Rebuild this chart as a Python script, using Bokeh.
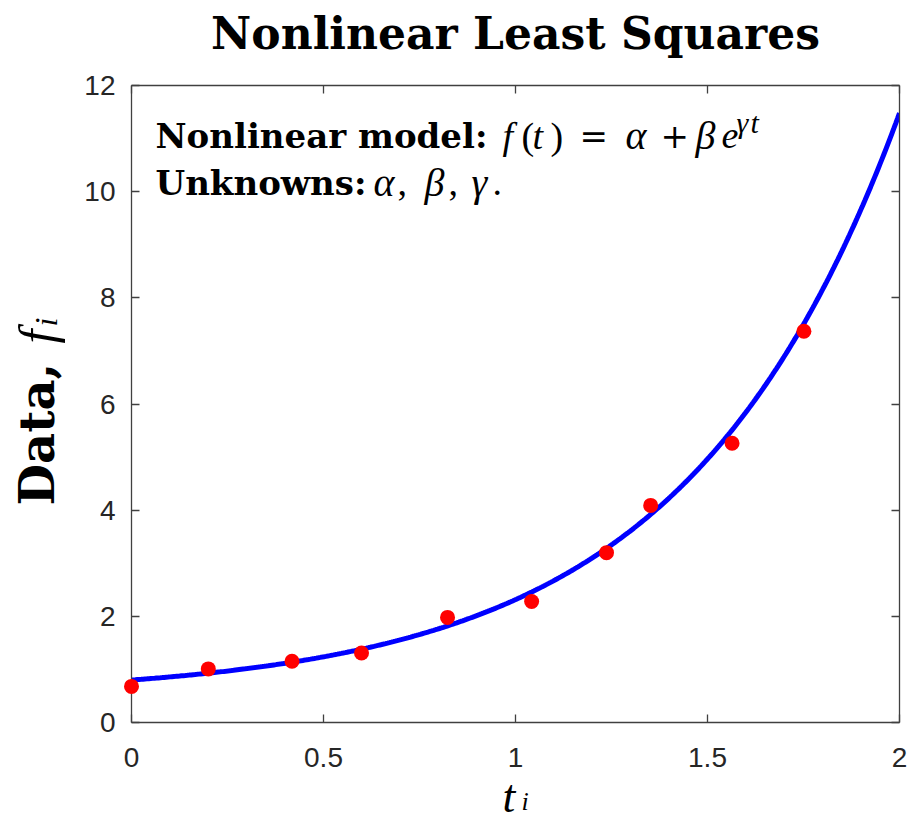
import numpy as np
from bokeh.plotting import figure
from bokeh.models import Range1d, LinearAxis, FixedTicker
from bokeh.core.properties import value
from bokeh.embed import file_html
from bokeh.resources import INLINE

# ---- data ----
t_data = [0.00, 0.20, 0.418, 0.599, 0.823, 1.042, 1.237, 1.352, 1.564, 1.751]
f_data = [0.68, 1.01, 1.155, 1.31, 1.98, 2.28, 3.20, 4.09, 5.26, 7.37]

# fitted model parameters f(t) = alpha + beta*exp(gamma*t)
alpha, beta, gamma = 0.5, 0.3, 1.8

x_ticks = [0, 0.5, 1, 1.5, 2]
x_tick_labels = ["0", "0.5", "1", "1.5", "2"]
y_ticks = [0, 2, 4, 6, 8, 10, 12]
y_tick_labels = ["0", "2", "4", "6", "8", "10", "12"]

W, H = 911, 824
L, R, T, B = 131, 12, 85, 102
X0, X1, Y0, Y1 = 0, 2, 0, 12

p = figure(width=W, height=H, output_backend="svg", toolbar_location=None,
           x_range=Range1d(X0, X1), y_range=Range1d(Y0, Y1),
           min_border_left=L, min_border_right=R, min_border_top=T,
           min_border_bottom=B, background_fill_color="white",
           border_fill_color="white")
p.xgrid.visible = False
p.ygrid.visible = False
p.outline_line_color = None

AX_COLOR = "#404040"
LBL_COLOR = "#262626"

def style_axis(ax, ticks, labels, show_labels=True):
    ax.ticker = FixedTicker(ticks=ticks)
    ax.major_label_overrides = {tk: lb for tk, lb in zip(ticks, labels)}
    ax.axis_line_color = AX_COLOR
    ax.axis_line_width = 1.3
    ax.major_tick_line_color = AX_COLOR
    ax.major_tick_line_width = 1.3
    ax.major_tick_in = 8
    ax.major_tick_out = 0
    ax.minor_tick_line_color = None
    if show_labels:
        ax.major_label_text_font = "Liberation Sans"
        ax.major_label_text_font_size = "28px"
        ax.major_label_text_color = LBL_COLOR
    else:
        ax.major_label_text_font_size = "1px"
        ax.major_label_text_color = None
        ax.major_label_standoff = 0

style_axis(p.xaxis[0], x_ticks, x_tick_labels)
style_axis(p.yaxis[0], y_ticks, y_tick_labels)
p.xaxis[0].major_label_standoff = 25
p.yaxis[0].major_label_standoff = 16

top_ax = LinearAxis()
right_ax = LinearAxis()
style_axis(top_ax, x_ticks, x_tick_labels, show_labels=False)
style_axis(right_ax, y_ticks, y_tick_labels, show_labels=False)
p.add_layout(top_ax, "above")
p.add_layout(right_ax, "right")

# model curve
tt = np.linspace(X0, X1, 400)
ff = alpha + beta * np.exp(gamma * tt)
p.line(tt, ff, line_color="#0000ff", line_width=5)

# data points
p.scatter(t_data, f_data, size=15, fill_color="#ff0000", line_color=None,
          level="overlay")

# ---- text (positions given in screen pixels, converted to data units) ----
fw = W - L - R
fh = H - T - B

def sx(px):
    return X0 + (px - L) / fw * (X1 - X0)

def sy(py):
    return Y0 + (H - B - py) / fh * (Y1 - Y0)

def add_text(text, px, py, font, style, size, angle=0.0, align="left"):
    p.text(x=[sx(px)], y=[sy(py)], text=[text], text_font=value(font),
           text_font_style=value(style), text_font_size=value(size),
           text_color="black", text_baseline=value("alphabetic"),
           text_align=value(align), angle=angle, level="overlay")

SERIF_B = "DejaVu Serif"
MATH = "Liberation Serif"
DY = -15   # empirical baseline correction for horizontal text
DX = -19   # same correction for rotated text

# title
add_text("Nonlinear Least Squares", 515, 48 + DY, SERIF_B, "bold", "44px", align="center")

# annotation line 1
b1 = 150 + DY
add_text("Nonlinear model:", 155, b1, SERIF_B, "bold", "34px")
add_text("f", 502, b1, MATH, "italic", "38px")
add_text("(", 521, b1, MATH, "normal", "38px")
add_text("t", 532, b1, MATH, "italic", "38px")
add_text(")", 550, b1, MATH, "normal", "38px")
add_text("=", 579, b1, "DejaVu Serif", "normal", "34px")
add_text("α", 625, b1, MATH, "italic", "40px")
add_text("+", 660, b1, "DejaVu Serif", "normal", "34px")
add_text("β", 695, b1, MATH, "italic", "40px")
add_text("e", 721, b1, MATH, "italic", "38px")
add_text("γ", 736, b1 - 13, MATH, "italic", "30px")
add_text("t", 750, b1 - 13, MATH, "italic", "30px")

# annotation line 2
b2 = 197 + DY
add_text("Unknowns:", 155, b2, SERIF_B, "bold", "34px")
add_text("α", 373, b2, MATH, "italic", "40px")
add_text(",", 397, b2, MATH, "normal", "38px")
add_text("β", 424, b2, MATH, "italic", "40px")
add_text(",", 448, b2, MATH, "normal", "38px")
add_text("γ", 471, b2, MATH, "italic", "40px")
add_text(".", 492, b2, MATH, "normal", "38px")

# y axis label (rotated)
ang = np.pi / 2
add_text("Data,", 55 + DX, 505, SERIF_B, "bold", "48px", angle=ang)
add_text("f", 55 + DX, 343, MATH, "italic", "50px", angle=ang)
add_text("i", 64 + DX, 326, MATH, "italic", "32px", angle=ang)

# x axis label
add_text("t", 502, 811 + DY, MATH, "italic", "46px")
add_text("i", 521, 816 + DY, MATH, "italic", "26px")

open("out.html", "w").write(file_html(p, INLINE))
